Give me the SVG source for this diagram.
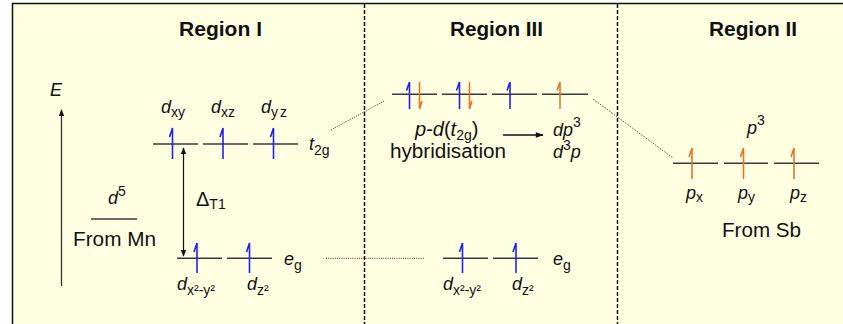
<svg xmlns="http://www.w3.org/2000/svg" width="843" height="324" viewBox="0 0 843 324">
<defs>
<style>
text{font-family:"Liberation Sans",Arial,sans-serif;fill:#111;}
.t{font-size:20px;font-weight:bold;}
.n{font-size:20px;}
.i{font-size:18px;font-style:italic;}
.s{font-size:14px;font-style:normal;}
.lv{stroke:#3a3a3a;stroke-width:1.5;fill:none;}
.b{stroke:#2222ee;stroke-width:1.6;fill:none;}
.o{stroke:#e8722a;stroke-width:1.6;fill:none;}
.dot{stroke:#333;stroke-width:1;stroke-dasharray:1 1.2;fill:none;}
.dash{stroke:#111;stroke-width:1.5;stroke-dasharray:4 2;fill:none;}
</style>
<marker id="ah" viewBox="0 0 10 10" refX="9" refY="5" markerWidth="7" markerHeight="7" orient="auto-start-reverse" markerUnits="userSpaceOnUse">
<path d="M0,1 L10,5 L0,9 z" fill="#111"/>
</marker>
<marker id="ah2" viewBox="0 0 10 10" refX="9" refY="5" markerWidth="12" markerHeight="8" orient="auto" markerUnits="userSpaceOnUse">
<path d="M0,1.5 L10,5 L0,8.5 z" fill="#111"/>
</marker>
</defs>
<rect x="12.5" y="3.5" width="840" height="330" fill="#ffffe2" stroke="#111" stroke-width="1.5"/>
<line class="dash" x1="364.5" y1="4" x2="364.5" y2="324"/>
<line class="dash" x1="617.5" y1="4" x2="617.5" y2="324"/>

<g id="titles">
<text class="t" x="179" y="36" textLength="83" lengthAdjust="spacingAndGlyphs">Region I</text>
<text class="t" x="450" y="36" textLength="93" lengthAdjust="spacingAndGlyphs">Region III</text>
<text class="t" x="709" y="36" textLength="88" lengthAdjust="spacingAndGlyphs">Region II</text>
</g>

<g id="energy-axis">
<text class="i" x="50" y="96" font-size="19">E</text>
<line x1="61.5" y1="286" x2="61.5" y2="110" stroke="#333" stroke-width="1.3" marker-end="url(#ah)"/>
</g>

<g id="mn-d5">
<text class="i" x="108" y="204" font-size="19">d<tspan class="s" font-size="12" dy="-8">5</tspan></text>
<line class="lv" x1="91" y1="219" x2="137" y2="219"/>
<text class="n" x="73" y="246" textLength="83" lengthAdjust="spacingAndGlyphs">From Mn</text>
</g>

<g id="r1-t2g">
<line class="lv" x1="153" y1="144" x2="198" y2="144"/>
<line class="lv" x1="203" y1="144" x2="248" y2="144"/>
<line class="lv" x1="253" y1="144" x2="298" y2="144"/>
<path class="b" d="M172.5,159 V128 L169.5,137"/>
<path class="b" d="M223,159 V128 L220,137"/>
<path class="b" d="M273.5,159 V128 L270.5,137"/>
<text class="i" x="161" y="113" font-size="19">d<tspan class="s" dy="4">xy</tspan></text>
<text class="i" x="211" y="113" font-size="19">d<tspan class="s" dy="4">xz</tspan></text>
<text class="i" x="261" y="113" font-size="19">d<tspan class="s" dy="4" letter-spacing="2">yz</tspan></text>
<text class="i" x="309" y="150" font-size="19">t<tspan class="s" dy="5">2g</tspan></text>
</g>

<g id="r1-eg">
<line class="lv" x1="177" y1="258.3" x2="222" y2="258.3"/>
<line class="lv" x1="227" y1="258.3" x2="272" y2="258.3"/>
<path class="b" d="M197,273 V243 L194,252"/>
<path class="b" d="M249.5,273 V243 L246.5,252"/>
<text class="i" x="284" y="265" font-size="19">e<tspan class="s" dy="5">g</tspan></text>
<text class="i" x="177" y="290" font-size="19">d<tspan class="s" dy="5">x²-y²</tspan></text>
<text class="i" x="247" y="290" font-size="19">d<tspan class="s" dy="5">z²</tspan></text>
</g>

<g id="splitting">
<line x1="183.5" y1="148" x2="183.5" y2="256" stroke="#111" stroke-width="1.2" marker-start="url(#ah)" marker-end="url(#ah)"/>
<text class="n" x="196" y="206">Δ<tspan class="s" dy="3">T1</tspan></text>
</g>

<g id="r3-hybrid">
<line class="lv" x1="392" y1="94.3" x2="437" y2="94.3"/>
<line class="lv" x1="442" y1="94.3" x2="487" y2="94.3"/>
<line class="lv" x1="492" y1="94.3" x2="537" y2="94.3"/>
<line class="lv" x1="542" y1="94.3" x2="588" y2="94.3"/>
<path class="b" d="M409.5,109 V82 L406.5,90.5"/>
<path class="o" d="M419.5,82 V109 L422,101"/>
<path class="b" d="M459.5,109 V82 L456.5,90.5"/>
<path class="o" d="M469.5,82 V109 L472,101"/>
<path class="b" d="M510,109 V82 L507,90.5"/>
<path class="o" d="M560,109 V82 L557,90.5"/>
<text class="n" x="415" y="136"><tspan font-style="italic">p</tspan>-<tspan font-style="italic">d</tspan>(<tspan font-style="italic">t</tspan><tspan class="s" dy="4">2g</tspan><tspan dy="-4">)</tspan></text>
<text class="n" x="390" y="157.5" textLength="116" lengthAdjust="spacingAndGlyphs">hybridisation</text>
<line x1="503" y1="135" x2="543" y2="135" stroke="#111" stroke-width="1.6" marker-end="url(#ah2)"/>
<text class="i" x="553" y="136" font-size="20">dp<tspan class="s" font-size="12" dy="-9">3</tspan></text>
<text class="i" x="553" y="158" font-size="20">d<tspan class="s" font-size="12" dy="-8">3</tspan><tspan dy="8">p</tspan></text>
</g>

<g id="r3-eg">
<line class="lv" x1="443" y1="258.3" x2="488" y2="258.3"/>
<line class="lv" x1="493" y1="258.3" x2="538" y2="258.3"/>
<path class="b" d="M462.5,273 V243 L459.5,252"/>
<path class="b" d="M516,273 V243 L513,252"/>
<text class="i" x="553" y="265" font-size="19">e<tspan class="s" dy="5">g</tspan></text>
<text class="i" x="443" y="290" font-size="19">d<tspan class="s" dy="5">x²-y²</tspan></text>
<text class="i" x="512" y="290" font-size="19">d<tspan class="s" dy="5">z²</tspan></text>
</g>

<g id="r2-sb">
<text class="i" x="747" y="134" font-size="19">p<tspan class="s" font-size="12" dy="-9">3</tspan></text>
<line class="lv" x1="673" y1="163.3" x2="718" y2="163.3"/>
<line class="lv" x1="724" y1="163.3" x2="768" y2="163.3"/>
<line class="lv" x1="774" y1="163.3" x2="819" y2="163.3"/>
<path class="o" d="M692,179 V148 L689,157"/>
<path class="o" d="M743.5,179 V148 L740.5,157"/>
<path class="o" d="M794,179 V148 L791,157"/>
<text class="i" x="686" y="199" font-size="19">p<tspan class="s" dy="3">x</tspan></text>
<text class="i" x="738" y="199" font-size="19">p<tspan class="s" dy="3">y</tspan></text>
<text class="i" x="790" y="199" font-size="19">p<tspan class="s" dy="3">z</tspan></text>
<text class="n" x="722" y="237" textLength="79" lengthAdjust="spacingAndGlyphs">From Sb</text>
</g>

<g id="connectors">
<line class="dot" x1="331" y1="130" x2="384" y2="101"/>
<line class="dot" x1="593" y1="99" x2="673" y2="158"/>
<line class="dot" x1="326" y1="258.3" x2="425" y2="258.3"/>
</g>
</svg>
